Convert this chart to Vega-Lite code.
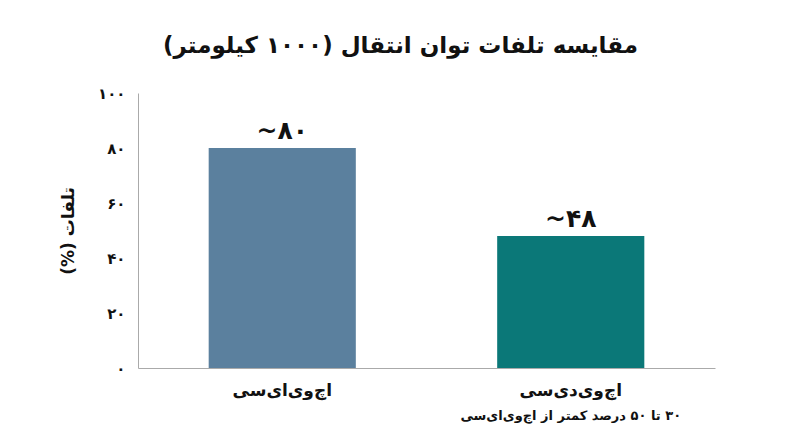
{
  "$schema": "https://vega.github.io/schema/vega-lite/v6.json",
  "autosize": "none",
  "width": 577,
  "height": 275,
  "padding": {"left": 138, "top": 93, "right": 85, "bottom": 79},
  "background": "white",
  "config": {
    "font": "DejaVu Sans",
    "view": {"stroke": null}
  },
  "title": {
    "text": "‏مقایسه تلفات توان انتقال (۱۰۰۰ کیلومتر)‏",
    "fontSize": 23,
    "fontWeight": "bold",
    "color": "#111111",
    "anchor": "middle",
    "dx": -26,
    "offset": 28
  },
  "data": {
    "values": [
      {"system": "اچ‌وی‌ای‌سی", "loss": 80, "label": "~۸۰", "note": ""},
      {"system": "اچ‌وی‌دی‌سی", "loss": 48, "label": "~۴۸", "note": "‏۳۰ تا ۵۰ درصد کمتر از اچ‌وی‌ای‌سی"}
    ]
  },
  "encoding": {
    "x": {
      "field": "system",
      "type": "nominal",
      "sort": null,
      "scale": {"paddingInner": 0, "paddingOuter": 0},
      "axis": {
        "title": null,
        "labelAngle": 0,
        "labelFontSize": 17,
        "labelFontWeight": "bold",
        "labelColor": "#111111",
        "labelPadding": 14,
        "ticks": false,
        "domainColor": "#aaaaaa"
      }
    }
  },
  "layer": [
    {
      "mark": {"type": "bar", "width": {"band": 0.51}},
      "encoding": {
        "y": {
          "field": "loss",
          "type": "quantitative",
          "scale": {"domain": [0, 100]},
          "axis": {
            "title": "‏تلفات (%)‏",
            "titleFontSize": 17,
            "titleFontWeight": "bold",
            "titleColor": "#111111",
            "titlePadding": 20,
            "values": [0, 20, 40, 60, 80, 100],
            "labelExpr": "datum.value == 0 ? '۰' : datum.value == 20 ? '۲۰' : datum.value == 40 ? '۴۰' : datum.value == 60 ? '۶۰' : datum.value == 80 ? '۸۰' : '۱۰۰'",
            "labelFontSize": 15,
            "labelFontWeight": "bold",
            "labelColor": "#111111",
            "labelPadding": 13,
            "ticks": false,
            "grid": false,
            "domainColor": "#aaaaaa"
          }
        },
        "color": {
          "field": "system",
          "type": "nominal",
          "sort": null,
          "scale": {"range": ["#5b809e", "#0b7878"]},
          "legend": null
        }
      }
    },
    {
      "mark": {"type": "text", "baseline": "bottom", "dy": -4, "fontSize": 25, "fontWeight": "bold", "color": "#111111"},
      "encoding": {
        "y": {"field": "loss", "type": "quantitative"},
        "text": {"field": "label"}
      }
    },
    {
      "mark": {"type": "text", "baseline": "middle", "dy": 48, "fontSize": 13, "fontWeight": "bold", "color": "#111111"},
      "encoding": {
        "y": {"datum": 0},
        "text": {"field": "note"}
      }
    }
  ]
}
